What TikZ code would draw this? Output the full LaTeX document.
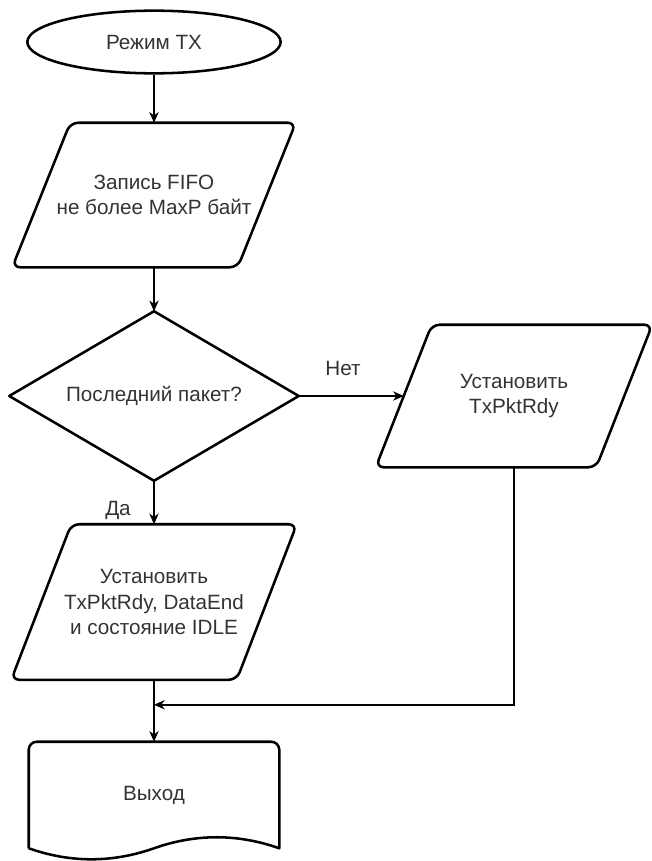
\documentclass[tikz,border=0pt]{standalone}
\usepackage{fontspec}
\setmainfont{Liberation Sans}
\usetikzlibrary{arrows.meta,calc,shapes.geometric}
\begin{document}
\begin{tikzpicture}[x=0.75pt,y=-0.75pt,
  txt/.style={font=\fontsize{15.5}{19}\selectfont, text=black!80, align=center, inner sep=0pt},
  shp/.style={draw=black, line width=1.9pt, line join=round},
  con/.style={draw=black, line width=1.1pt},
  arr/.style={con, -{Stealth[length=8pt,width=7pt,inset=2.5pt]}},
  holder/.style={txt, rectangle, minimum width=#1},
  lbl/.style={txt}
]
\useasboundingbox (0,0) rectangle (651,861);

% start terminal
\node[txt, shp, ellipse, minimum width=190pt, minimum height=47pt] (start) at (154,42) {Режим TX};

% write FIFO
\node[holder=168.75pt, minimum height=108pt] (p1) at (154,195) {Запись FIFO\\не более MaxP байт};
\draw[shp, rounded corners=6pt] ($(p1.north west)+(29,0)$) -- ($(p1.north east)+(29,0)$) -- ($(p1.south east)+(-29,0)$) -- ($(p1.south west)+(-29,0)$) -- cycle;

% decision
\node[holder=216.75pt, minimum height=126.75pt] (d) at (154,396) {Последний пакет?};
\draw[shp] (d.north) -- (d.east) -- (d.south) -- (d.west) -- cycle;

% set TxPktRdy
\node[holder=165pt, minimum height=106.5pt] (p2) at (514,396) {Установить\\TxPktRdy};
\draw[shp, rounded corners=6pt] ($(p2.north west)+(28,0)$) -- ($(p2.north east)+(28,0)$) -- ($(p2.south east)+(-28,0)$) -- ($(p2.south west)+(-28,0)$) -- cycle;

% set TxPktRdy, DataEnd, IDLE
\node[holder=168.75pt, minimum height=116.25pt] (p3) at (154,602) {Установить\\TxPktRdy, DataEnd\\и состояние IDLE};
\draw[shp, rounded corners=6pt] ($(p3.north west)+(30,0)$) -- ($(p3.north east)+(30,0)$) -- ($(p3.south east)+(-30,0)$) -- ($(p3.south west)+(-30,0)$) -- cycle;

% exit (document shape)
\node[holder=187.5pt, minimum height=79.5pt] (ex) at (154,795) {Выход};
\draw[shp] (ex.south west) [rounded corners=6pt] -- (ex.north west) -- (ex.north east) [sharp corners] -- (ex.south east)
  .. controls ($(ex.south east)+(-41.7,-14.7)$) and ($(ex.south)+(41.7,-14.7)$) .. (ex.south)
  .. controls ($(ex.south)+(-41.7,14.7)$) and ($(ex.south west)+(41.7,14.7)$) .. (ex.south west);

% labels
\node[lbl] (no) at (343,368) {Нет};
\node[lbl] (yes) at (118,510) {Да};

% connectors
\coordinate (m) at ($(p3.south)+(0,25)$);
\draw[arr] (start.south) -- (p1.north);
\draw[arr] (p1.south) -- (d.north);
\draw[arr] (d.east) -- (p2.west);
\draw[arr] (d.south) -- (p3.north);
\draw[arr] (p3.south) -- (ex.north);
\draw[arr] (p2.south) |- (m);
\end{tikzpicture}
\end{document}
